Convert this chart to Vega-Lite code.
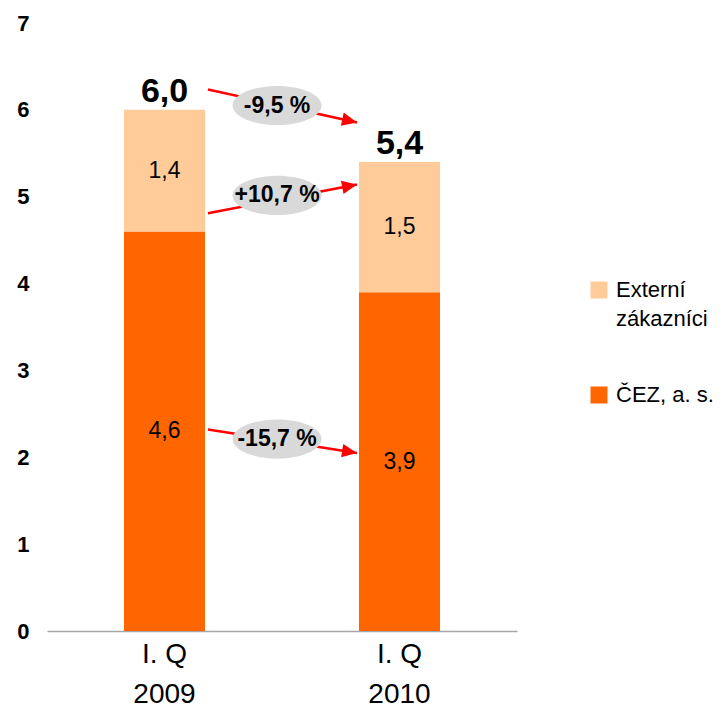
{
  "$schema": "https://vega.github.io/schema/vega-lite/v6.json",
  "width": 470,
  "height": 608,
  "autosize": "none",
  "padding": {"left": 47, "top": 23, "right": 203, "bottom": 78},
  "background": "white",
  "config": {
    "view": {"stroke": null},
    "font": "Liberation Sans",
    "locale": {"number": {"decimal": ",", "thousands": " ", "grouping": [3], "currency": ["", " Kč"]}},
    "style": {"guide-label": {"lineHeight": 29}},
    "axisY": {
      "domain": false, "ticks": false, "grid": false,
      "labelFontSize": 22, "labelFontWeight": "bold",
      "labelColor": "#000000", "labelPadding": 18
    }
  },
  "datasets": {
    "bars": [
      {"year": "2009", "series": "ČEZ, a. s.", "value": 4.6},
      {"year": "2009", "series": "Externí zákazníci", "value": 1.4},
      {"year": "2010", "series": "ČEZ, a. s.", "value": 3.9},
      {"year": "2010", "series": "Externí zákazníci", "value": 1.5}
    ],
    "changes": [
      {"label": "-9,5 %", "x0": 0.685, "y0": 6.235, "x1": 1.319, "y1": 5.855, "xc": 0.979, "yc": 6.05},
      {"label": "+10,7 %", "x0": 0.685, "y0": 4.81, "x1": 1.319, "y1": 5.14, "xc": 0.979, "yc": 5.015},
      {"label": "-15,7 %", "x0": 0.685, "y0": 2.32, "x1": 1.319, "y1": 2.05, "xc": 0.979, "yc": 2.21}
    ]
  },
  "layer": [
    {
      "data": {"name": "bars"},
      "layer": [
        {
          "mark": {"type": "bar", "size": 81},
          "encoding": {
            "x": {
              "field": "year", "type": "nominal",
              "scale": {"paddingInner": 0, "paddingOuter": 0},
              "axis": {
                "title": null, "labelAngle": 0, "ticks": false,
                "domainColor": "#A6A6A6", "domainWidth": 1.5,
                "labelFontSize": 28, "labelColor": "#000000",
                "labelLineHeight": 40, "labelPadding": 9,
                "labelExpr": "['I. Q', datum.label]"
              }
            },
            "y": {
              "field": "value", "type": "quantitative", "stack": "zero", "title": null,
              "scale": {"domain": [0, 7], "nice": false},
              "axis": {"values": [0, 1, 2, 3, 4, 5, 6, 7], "format": "d"}
            },
            "color": {
              "field": "series", "type": "nominal",
              "scale": {"domain": ["Externí zákazníci", "ČEZ, a. s."], "range": ["#FFCC99", "#FF6600"]},
              "legend": {
                "title": null, "orient": "none", "legendX": 541, "legendY": 256,
                "symbolType": "square", "symbolSize": 289, "symbolStrokeWidth": 0,
                "labelFontSize": 22, "labelColor": "#000000", "labelOffset": 6,
                "rowPadding": 54, "padding": 0,
                "labelExpr": "datum.label == 'Externí zákazníci' ? ['Externí', 'zákazníci'] : datum.label"
              }
            },
            "order": {"field": "series", "sort": "descending"}
          }
        },
        {
          "transform": [
            {"stack": "value", "groupby": ["year"], "sort": [{"field": "series", "order": "descending"}], "as": ["v0", "v1"]},
            {"calculate": "(datum.v0 + datum.v1) / 2", "as": "mid"}
          ],
          "mark": {"type": "text", "fontSize": 23, "color": "#000000", "baseline": "middle"},
          "encoding": {
            "x": {"field": "year", "type": "nominal"},
            "y": {"field": "mid", "type": "quantitative", "title": null},
            "text": {"field": "value", "type": "quantitative", "format": ".1f"}
          }
        },
        {
          "mark": {"type": "text", "fontSize": 34, "fontWeight": "bold", "color": "#000000", "baseline": "alphabetic", "dy": -8},
          "encoding": {
            "x": {"field": "year", "type": "nominal"},
            "y": {"aggregate": "sum", "field": "value", "type": "quantitative", "title": null},
            "text": {"aggregate": "sum", "field": "value", "type": "quantitative", "format": ".1f"}
          }
        }
      ]
    },
    {
      "data": {"name": "changes"},
      "layer": [
        {
          "mark": {"type": "rule", "color": "#FF0000", "strokeWidth": 2.5},
          "encoding": {
            "x": {"field": "x0", "type": "quantitative", "scale": {"domain": [0, 2], "nice": false, "zero": false}, "axis": null},
            "x2": {"field": "x1"},
            "y": {"field": "y0", "type": "quantitative", "title": null},
            "y2": {"field": "y1"}
          }
        },
        {
          "mark": {"type": "point", "filled": true, "opacity": 1, "color": "#D9D9D9", "size": 7921,
                   "shape": "M-1,0C-1,-0.243,-0.552,-0.44,0,-0.44C0.552,-0.44,1,-0.243,1,0C1,0.243,0.552,0.44,0,0.44C-0.552,0.44,-1,0.243,-1,0Z"},
          "encoding": {
            "x": {"field": "xc", "type": "quantitative"},
            "y": {"field": "yc", "type": "quantitative", "title": null}
          }
        },
        {
          "mark": {"type": "text", "fontSize": 23, "fontWeight": "bold", "color": "#000000", "baseline": "middle"},
          "encoding": {
            "x": {"field": "xc", "type": "quantitative"},
            "y": {"field": "yc", "type": "quantitative", "title": null},
            "text": {"field": "label"}
          }
        },
        {
          "transform": [{"filter": "datum.label == '-9,5 %'"}],
          "mark": {"type": "point", "filled": true, "opacity": 1, "color": "#FF0000", "size": 225, "angle": 12.5,
                   "shape": "M0,0L-2,-0.9L-2,0.9Z"},
          "encoding": {
            "x": {"field": "x1", "type": "quantitative"},
            "y": {"field": "y1", "type": "quantitative", "title": null}
          }
        },
        {
          "transform": [{"filter": "datum.label == '+10,7 %'"}],
          "mark": {"type": "point", "filled": true, "opacity": 1, "color": "#FF0000", "size": 225, "angle": 349,
                   "shape": "M0,0L-2,-0.9L-2,0.9Z"},
          "encoding": {
            "x": {"field": "x1", "type": "quantitative"},
            "y": {"field": "y1", "type": "quantitative", "title": null}
          }
        },
        {
          "transform": [{"filter": "datum.label == '-15,7 %'"}],
          "mark": {"type": "point", "filled": true, "opacity": 1, "color": "#FF0000", "size": 225, "angle": 9.2,
                   "shape": "M0,0L-2,-0.9L-2,0.9Z"},
          "encoding": {
            "x": {"field": "x1", "type": "quantitative"},
            "y": {"field": "y1", "type": "quantitative", "title": null}
          }
        }
      ]
    }
  ],
  "resolve": {"scale": {"x": "independent"}}
}
